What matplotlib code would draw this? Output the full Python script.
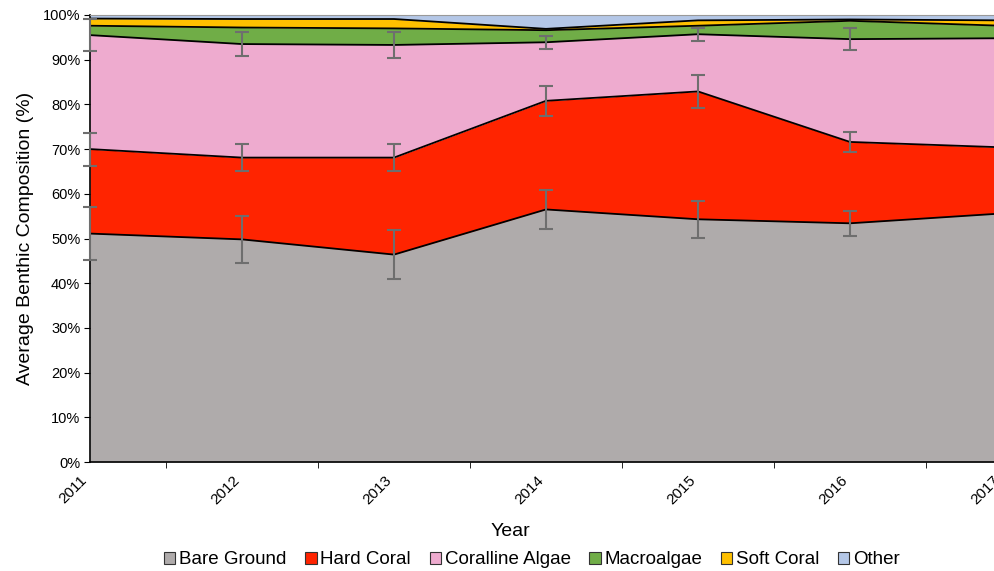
import matplotlib
matplotlib.use("Agg")
import matplotlib.pyplot as plt
import numpy as np
from matplotlib.patches import Patch

plt.rcParams['font.family'] = ['Liberation Sans', 'DejaVu Sans']

years = [2011, 2012, 2013, 2014, 2015, 2016, 2017]
bare_ground = [51.1, 49.8, 46.4, 56.5, 54.3, 53.4, 55.6]
hard_coral = [18.9, 18.3, 21.7, 24.3, 28.6, 18.2, 14.8]
coralline_algae = [25.5, 25.4, 25.2, 13.1, 12.8, 23.0, 24.4]
macroalgae = [2.1, 3.7, 3.7, 2.7, 1.9, 4.1, 2.8]
soft_coral = [1.6, 1.9, 2.1, 0.3, 1.2, 0.3, 1.2]
other = [0.8, 0.9, 0.9, 3.1, 1.2, 1.0, 1.2]

err_bare = [6.0, 5.2, 5.4, 4.4, 4.1, 2.8, np.nan]
err_hard = [3.7, 3.1, 3.1, 3.4, 3.6, 2.2, np.nan]
err_coralline = [3.5, 2.7, 2.9, 1.5, 1.5, 2.4, np.nan]

names = ["Bare Ground", "Hard Coral", "Coralline Algae", "Macroalgae", "Soft Coral", "Other"]
colors = ["#AFABAB", "#FF2400", "#EEABCF", "#70AD47", "#FFC000", "#B4C7E7"]
series = [bare_ground, hard_coral, coralline_algae, macroalgae, soft_coral, other]

fig = plt.figure(figsize=(9.95, 5.71), dpi=100)
ax = fig.add_axes([90/995, 1-462/571, (1002-90)/995, (462-15)/571])

x = np.arange(len(years))
base = np.zeros(len(years))
tops = []
for vals, c, n in zip(series, colors, names):
    top = base + np.array(vals)
    ax.fill_between(x, base, top, color=c, linewidth=0, zorder=1)
    ax.plot(x, top, color='black', linewidth=1.3, zorder=2)
    tops.append(top)
    base = top

for top, err in zip(tops[:3], [err_bare, err_hard, err_coralline]):
    ax.errorbar(x, top, yerr=err, fmt='none', ecolor='#6E6E6E', elinewidth=1.5,
                capsize=5, capthick=1.5, zorder=3, clip_on=False)

ax.set_xlim(0, len(years) - 1)
ax.set_ylim(0, 100)
ax.set_yticks(np.arange(0, 101, 10))
ax.set_yticklabels([f"{v}%" for v in range(0, 101, 10)], fontsize=10.5)
ax.set_xticks(x)
ax.set_xticklabels([str(y) for y in years], rotation=45, ha='right', va='top', fontsize=11)
ax.tick_params(axis='x', which='major', length=0, pad=8)
ax.set_xticks(x[:-1] + 0.5, minor=True)
ax.tick_params(axis='x', which='minor', length=4, direction='out', color='black')
ax.tick_params(axis='y', length=4, direction='out', pad=3)

ax.spines['right'].set_visible(False)
ax.spines['top'].set_color('#999999')
ax.spines['left'].set_linewidth(1.2)
ax.spines['bottom'].set_linewidth(1.2)

ax.set_ylabel("Average Benthic Composition (%)", fontsize=14, labelpad=6)
fig.text(510/995, 1-531/571, "Year", ha='center', va='center', fontsize=14)

handles = [Patch(facecolor=c, edgecolor='#333333', linewidth=0.8) for c in colors]
fig.legend(handles, names, loc='center', bbox_to_anchor=(532/995, 1-560/571), ncol=6,
           frameon=False, fontsize=13.5, handlelength=0.6, handleheight=0.6,
           handletextpad=0.2, columnspacing=1.0, borderpad=0)

fig.savefig("out.png", dpi=100)
